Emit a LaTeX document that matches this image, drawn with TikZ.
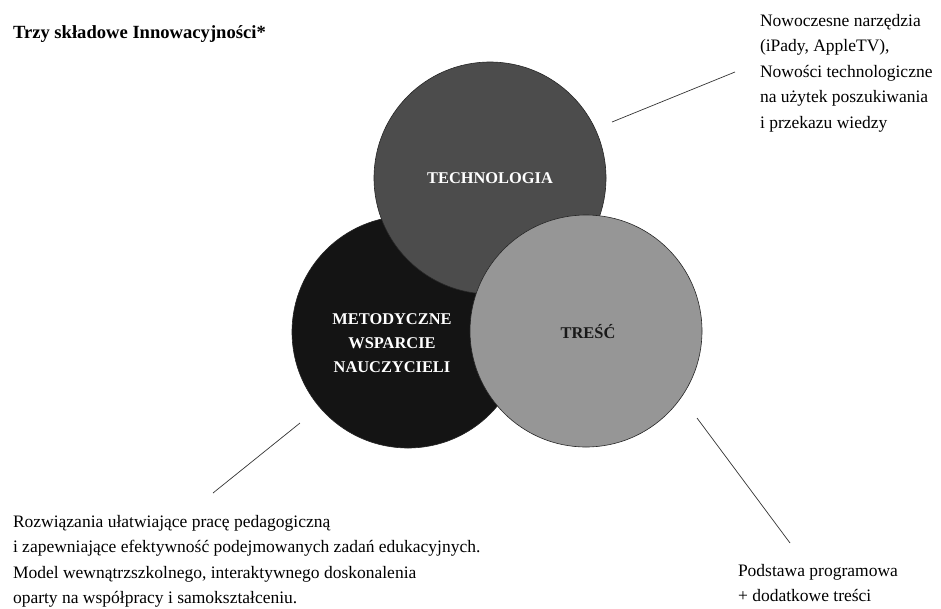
\documentclass[tikz,border=0pt]{standalone}
\usepackage{fontspec}
\setmainfont{Liberation Serif}
\usepackage{tikz}
\tikzset{
    every node/.style={inner sep=0pt, outer sep=0pt,
    	font=\fontsize{17.5}{25.6}\selectfont}
}
\tikzset{
    kolo/.style={circle, draw=black!85, line width=.6pt, minimum size=232pt},
    napis/.style={align=center, font=\fontsize{16.4}{24}\selectfont\bfseries},
    opis/.style={anchor=north west, align=left}
}
\tikzset{
	every edge/.append style={line width=.7pt, draw=black!80}
}

\begin{document}
\begin{tikzpicture}[x=1pt, y=-1pt]
  \useasboundingbox (0,0) rectangle (941,608);
  \node[opis, font=\fontsize{18.6}{26}\selectfont\bfseries] (tytul) at (13,26)
    {Trzy składowe Innowacyjności*};

  \node[kolo, fill=black!92] (meto) at (408,332) {};
  \node[kolo, fill=black!70] (tech) at (490,178) {};
  \node[kolo, fill=black!41] (tresc) at (586,331) {};

  \node[napis, text=white] (techtxt) at (490,178) {TECHNOLOGIA};
  \node[napis, text=white] (metotxt) at (392,343) {METODYCZNE\\WSPARCIE\\NAUCZYCIELI};
  \node[napis, text=black!90] (tresctxt) at (588,332) {TREŚĆ};

  \node[opis] (o1) at (760,14) {Nowoczesne narzędzia\\(iPady, AppleTV),\\Nowości technologiczne\\na użytek poszukiwania\\i przekazu wiedzy};
  \node[opis] (o2) at (13,515) {Rozwiązania ułatwiające pracę pedagogiczną\\i zapewniające efektywność podejmowanych zadań edukacyjnych.\\Model wewnątrzszkolnego, interaktywnego doskonalenia\\oparty na współpracy i samokształceniu.};
  \node[opis] (o3) at (738,564) {Podstawa programowa\\+ dodatkowe treści};

  \coordinate (a1) at (612,122); \coordinate (a2) at (735,72);
  \coordinate (b1) at (300,423); \coordinate (b2) at (213,493);
  \coordinate (c1) at (697,418); \coordinate (c2) at (790,543);

  \draw (a1) edge (a2); \draw (b1) edge (b2); \draw (c1) edge (c2);
\end{tikzpicture}
\end{document}
